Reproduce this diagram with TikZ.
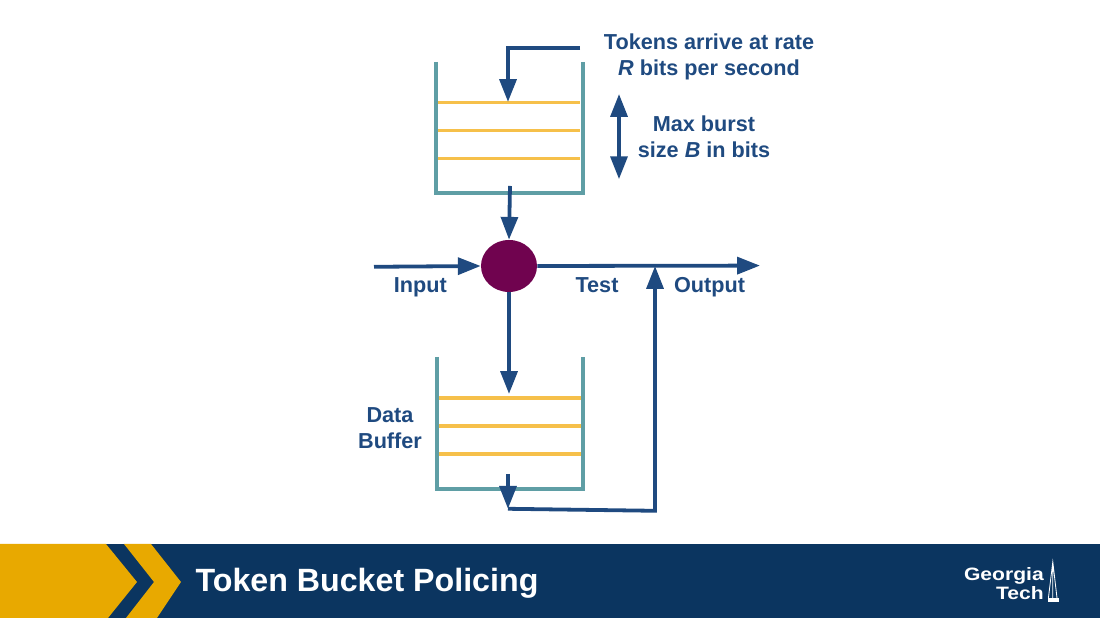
\documentclass[tikz,border=0pt]{standalone}
\usepackage{fontspec}
\setmainfont{Liberation Sans}
\usetikzlibrary{arrows.meta,shapes.geometric}
\definecolor{linkblue}{HTML}{1F4A80}
\definecolor{bucketteal}{HTML}{5F9EA5}
\definecolor{levelyellow}{HTML}{F6C04A}
\definecolor{testplum}{HTML}{70034F}
\definecolor{bannernavy}{HTML}{0B3560}
\definecolor{bannergold}{HTML}{E8A900}

\begin{document}
\begin{tikzpicture}[>={Triangle[length=0.57cm,width=0.42cm]},
	link/.style={draw=linkblue, line width=2.7pt},
	bucket/.style={draw=bucketteal, line width=2.4pt},
	level/.style={draw=levelyellow, line width=2.5pt},
	lab/.style={text=linkblue, font=\fontsize{15.4}{18.5}\selectfont\bfseries, align=center},
	logotext/.style={text=white, font=\fontsize{15}{15}\selectfont\bfseries, anchor=base east, inner sep=0pt, yscale=0.85, transform shape}]
	\useasboundingbox (0,0) rectangle (27.5,15.45);

	% banner
	\fill [bannernavy] (0,0) rectangle (27.5,1.85);
	\fill [bannergold] (0,0) -- (2.7,0) -- (3.425,0.9) -- (2.65,1.85) -- (0,1.85) -- cycle;
	\fill [bannergold] (3.15,0) -- (3.925,0) -- (4.525,0.9) -- (3.775,1.85) -- (3.1,1.85) -- (3.85,0.9) -- cycle;
	\node (title) [text=white, font=\fontsize{22.9}{28}\selectfont\bfseries] at (9.175,0.875) {Token Bucket Policing};
	\node (logotop) [logotext] at (26.1,0.93) {Georgia};
	\node (logobottom) [logotext] at (26.1,0.47) {Tech};
	\draw [white, line width=0.6pt] (26.21,0.5) -- (26.32,1.4) -- (26.425,0.5)
		  (26.32,1.4) -- (26.32,0.5);
	\fill [white] (26.19,0.4) rectangle (26.475,0.5);

	% token bucket
	\draw [bucket] (10.9,13.9) -- (10.9,10.625) -- (14.575,10.625) -- (14.575,13.9);
	\foreach \y in {12.8875,12.1875,11.4875}
		\draw [level] (10.95,\y) -- (14.5,\y);

	% data buffer
	\draw [bucket] (10.925,6.525) -- (10.925,3.225) -- (14.575,3.225) -- (14.575,6.525);
	\foreach \y in {5.5,4.8,4.1}
		\draw [level] (10.975,\y) -- (14.525,\y);

	\node (test) [draw=none, fill=testplum, shape=ellipse, minimum width=1.4cm, minimum height=1.3cm, inner sep=0pt] at (12.725,8.8) {};

	\coordinate (tokenstart) at (14.5,14.25);
	\coordinate (tokencorner) at (12.7,14.25);
	\coordinate (tokenend) at (12.7,12.9);
	\coordinate (bucketout) at (12.75,10.8);
	\coordinate (inputstart) at (9.35,8.78);
	\coordinate (outputend) at (19,8.81);
	\coordinate (bufferin) at (12.725,5.6);
	\coordinate (bufferout) at (12.7,3.6);
	\coordinate (bufferend) at (12.7,2.73);
	\coordinate (returncorner) at (16.375,2.68);
	\coordinate (returnend) at (16.375,8.8);
	\coordinate (burstup) at (15.475,13.1);
	\coordinate (burstdown) at (15.475,10.97);

	\draw [link, ->] (tokenstart) -- (tokencorner) -- (tokenend);
	\draw [link, <->] (burstup) -- (burstdown);
	\draw [link, ->] (bucketout) -- (test.north);
	\draw [link, ->] (inputstart) -- (test.west);
	\draw [link, ->] (test.east) -- (outputend);
	\draw [link, ->] (test.south) -- (bufferin);
	\draw [link, ->] (bufferout) -- (bufferend);
	\draw [link, ->] (bufferend) -- (returncorner) -- (returnend);

	\node (rate) [lab] at (17.725,14.03) {Tokens arrive at rate\\\textit{R} bits per second};
	\node (burst) [lab] at (17.6,12.02) {Max burst\\size \textit{B} in bits};
	\node (input) [lab, anchor=base] at (10.51,8.125) {Input};
	\node (testlabel) [lab, anchor=base] at (14.925,8.125) {Test};
	\node (output) [lab, anchor=base] at (17.74,8.125) {Output};
	\node (buffer) [lab] at (9.75,4.75) {Data\\Buffer};
\end{tikzpicture}
\end{document}
